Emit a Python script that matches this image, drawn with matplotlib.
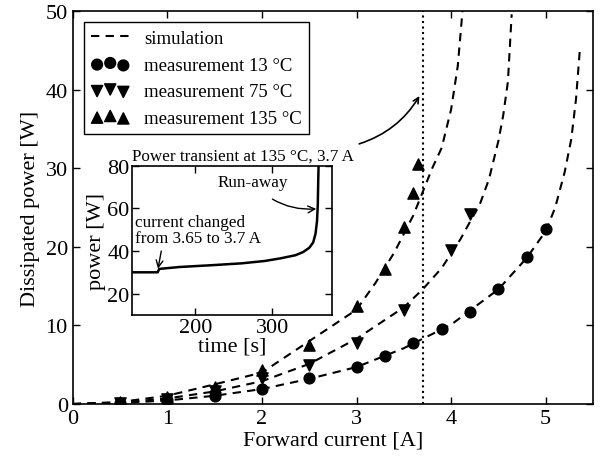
import matplotlib
matplotlib.use("Agg")
import matplotlib.pyplot as plt

plt.rcParams['font.family'] = ['Liberation Serif', 'DejaVu Serif']

# simulation curves (dashed)
sim13_x = [0, 0.5, 1, 1.5, 2, 2.5, 3, 3.5, 4, 4.5, 4.8, 5.0, 5.1, 5.2, 5.27, 5.32, 5.36]
sim13_y = [0, 0.12, 0.45, 1.05, 1.9, 3.2, 4.7, 7.1, 10.1, 14.6, 18.6, 22.0, 25.0, 29.5, 33.7, 38.8, 45]
sim75_x = [0, 0.5, 1, 1.5, 2, 2.5, 3, 3.5, 3.7, 3.9, 4.1, 4.2, 4.3, 4.4, 4.5, 4.55, 4.6, 4.64]
sim75_y = [0, 0.17, 0.7, 1.6, 2.9, 5.1, 8.3, 12.3, 14.6, 17.3, 21.0, 23.2, 25.3, 28.6, 33.5, 36.7, 41, 49.6]
sim135_x = [0, 0.5, 1.0, 1.5, 2.0, 2.5, 3.0, 3.2, 3.4, 3.6, 3.8, 3.9, 4.0, 4.07, 4.12]
sim135_y = [0, 0.25, 1.05, 2.5, 4.0, 8.0, 12.0, 15.4, 19.3, 24.0, 30.0, 32.6, 37.5, 43, 50]

# measurements
m13_x = [0.5, 1, 1.5, 2, 2.5, 3, 3.3, 3.6, 3.9, 4.2, 4.5, 4.8, 5.0]
m13_y = [0.15, 0.5, 1.05, 1.85, 3.25, 4.75, 6.05, 7.7, 9.55, 11.75, 14.65, 18.65, 22.3]
m75_x = [0.5, 1, 1.5, 2, 2.5, 3, 3.5, 4, 4.2]
m75_y = [0.15, 0.65, 1.6, 3.3, 4.9, 7.7, 12.0, 19.6, 24.2]
m135_x = [0.5, 1, 1.5, 2, 2.5, 3, 3.3, 3.5, 3.6, 3.65]
m135_y = [0.2, 0.85, 2.2, 4.3, 7.5, 12.5, 17.2, 22.5, 26.9, 30.6]

# inset: power transient
t_s = [118, 151, 153, 180, 220, 260, 290, 310, 330, 340, 348, 353, 356, 358, 359, 359.5, 360]
p_w = [30, 30, 31.6, 32.5, 33.3, 34.2, 35.3, 36.5, 38, 39.5, 41.5, 44, 48, 54, 62, 72, 80]

i_set = 3.7

fig = plt.figure(figsize=(6.06, 4.6), dpi=100)
ax = fig.add_axes([0.12, 0.1196, 0.8586, 0.854])

dash = (0, (4, 3))
ax.plot(sim13_x, sim13_y, color='black', lw=1.5, linestyle=dash, label='simulation')
ax.plot(sim75_x, sim75_y, color='black', lw=1.5, linestyle=dash)
ax.plot(sim135_x, sim135_y, color='black', lw=1.5, linestyle=dash)
ax.scatter(m13_x, m13_y, s=60, marker='o', color='black', label='measurement 13 °C', zorder=3)
ax.scatter(m75_x, m75_y, s=65, marker='v', color='black', label='measurement 75 °C', zorder=3)
ax.scatter(m135_x, m135_y, s=65, marker='^', color='black', label='measurement 135 °C', zorder=3)
ax.axvline(i_set, color='black', lw=1.5, linestyle=':')

ax.set_xlim(0, 5.5)
ax.set_ylim(0, 50)
ax.set_xticks([0, 1, 2, 3, 4, 5])
ax.set_yticks([0, 10, 20, 30, 40, 50])
ax.tick_params(direction='in', top=True, right=True, length=5, width=1, labelsize=16)
for s in ax.spines.values():
    s.set_linewidth(1.2)
ax.set_xlabel('Forward current [A]', fontsize=16, labelpad=2)
ax.set_ylabel('Dissipated power [W]', fontsize=16, labelpad=4)

leg = ax.legend(loc='upper left', fontsize=13.5, fancybox=False, edgecolor='black',
                framealpha=1, scatterpoints=3, handlelength=2.0, borderaxespad=0.6,
                labelspacing=0.5)
leg.get_frame().set_linewidth(1.0)

# arrow from the inset title to the 3.7 A line
ax.annotate('', xy=(3.68, 39.5), xytext=(3.0, 33.0),
            arrowprops=dict(arrowstyle='->', color='black', lw=1.2,
                            connectionstyle='arc3,rad=0.2'))

# inset
axi = fig.add_axes([0.2183, 0.313, 0.329, 0.325])
axi.plot(t_s, p_w, color='black', lw=1.8)
axi.set_xlim(118, 377)
axi.set_ylim(10, 80)
axi.set_xticks([200, 300])
axi.set_yticks([20, 40, 60, 80])
axi.tick_params(direction='in', top=True, right=True, length=5, width=1, labelsize=16, pad=2)
for s in axi.spines.values():
    s.set_linewidth(1.2)
axi.set_xlabel('time [s]', fontsize=16, labelpad=0)
axi.set_ylabel('power [W]', fontsize=16, labelpad=1)
axi.text(0.0, 1.01, 'Power transient at 135 °C, 3.7 A', transform=axi.transAxes,
         fontsize=12.3, ha='left', va='bottom')
axi.annotate('Run-away', xy=(357, 59.7), xytext=(274, 72.3), fontsize=12.3,
             ha='center', va='center',
             arrowprops=dict(arrowstyle='->', color='black', lw=1.0,
                             connectionstyle='arc3,rad=0.25', shrinkA=8, shrinkB=0))
axi.annotate('current changed\nfrom 3.65 to 3.7 A', xy=(151.4, 31.7), xytext=(121, 57.5),
             fontsize=12.3, ha='left', va='top', linespacing=1.0,
             arrowprops=dict(arrowstyle='->', color='black', lw=1.0, shrinkB=0,
                             relpos=(0.22, 0.0)))

fig.savefig('out.png', dpi=100)
